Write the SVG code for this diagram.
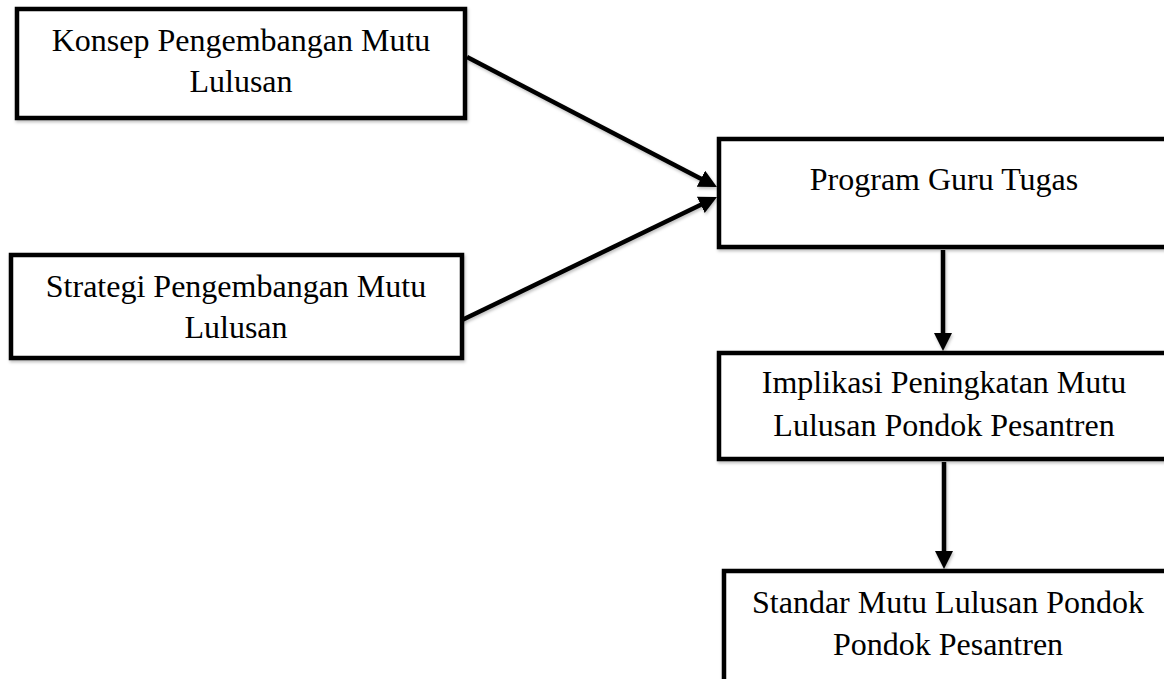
<svg xmlns="http://www.w3.org/2000/svg" width="1164" height="679" viewBox="0 0 1164 679">
  <style>
    .box { fill: #ffffff; stroke: #000000; stroke-width: 4.5; filter: url(#shadow); }
    .lbl { font-family: "Liberation Serif", "Times New Roman", serif; font-size: 32px; fill: #000000; text-anchor: middle; }
    .conn { stroke: #000000; stroke-width: 4.5; fill: none; marker-end: url(#arrow); filter: url(#shadow); }
  </style>
  <defs>
    <filter id="shadow" filterUnits="userSpaceOnUse" x="0" y="0" width="1164" height="679">
      <feDropShadow dx="1" dy="2" stdDeviation="1.5" flood-color="#000000" flood-opacity="0.25"/>
    </filter>
    <marker id="arrow" markerUnits="userSpaceOnUse" markerWidth="18" markerHeight="18" refX="7" refY="9" orient="auto">
      <path d="M0,0 L18,9 L0,18 z" fill="#000000"/>
    </marker>
  </defs>
  <rect width="1164" height="679" fill="#ffffff"/>
  <g id="connectors">
    <line class="conn" x1="467" y1="57" x2="707.2" y2="181.9"/>
    <line class="conn" x1="462" y1="320" x2="707.1" y2="201.8"/>
    <line class="conn" x1="943" y1="250" x2="943" y2="340"/>
    <line class="conn" x1="944" y1="462" x2="944" y2="558"/>
  </g>
  <g id="node-konsep">
    <rect class="box" x="17" y="9" width="448" height="109"/>
    <text class="lbl" x="241" y="51">Konsep Pengembangan Mutu</text>
    <text class="lbl" x="241" y="92">Lulusan</text>
  </g>
  <g id="node-strategi">
    <rect class="box" x="11" y="255" width="451" height="103"/>
    <text class="lbl" x="236" y="297">Strategi Pengembangan Mutu</text>
    <text class="lbl" x="236" y="338">Lulusan</text>
  </g>
  <g id="node-program">
    <rect class="box" x="719" y="139" width="460" height="108"/>
    <text class="lbl" x="944" y="190">Program Guru Tugas</text>
  </g>
  <g id="node-implikasi">
    <rect class="box" x="719" y="353" width="460" height="106"/>
    <text class="lbl" x="944" y="393">Implikasi Peningkatan Mutu</text>
    <text class="lbl" x="944" y="436">Lulusan Pondok Pesantren</text>
  </g>
  <g id="node-standar">
    <rect class="box" x="724" y="571" width="460" height="130"/>
    <text class="lbl" x="948" y="613">Standar Mutu Lulusan Pondok</text>
    <text class="lbl" x="948" y="655">Pondok Pesantren</text>
  </g>
</svg>
